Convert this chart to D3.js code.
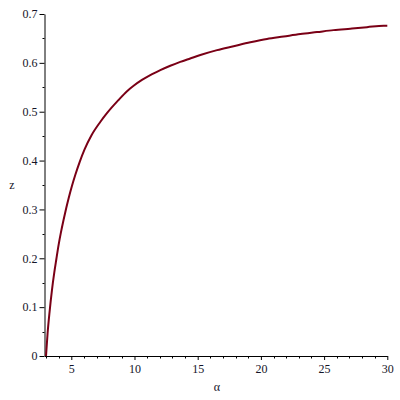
<!DOCTYPE html>
<html>
<head>
<meta charset="utf-8">
<script src="https://cdn.jsdelivr.net/npm/d3@7"></script>
<style>
  body { margin: 0; background: #fff; }
  svg { display: block; }
</style>
</head>
<body>
<div id="chart"></div>
<script>
// values
const alpha = [3.0, 3.12, 3.28, 3.47, 3.65, 3.81, 4.0, 4.18, 4.39, 4.6, 4.79, 5.05, 5.32, 5.66, 6.05,
  6.6, 7.29, 7.82, 8.74, 9.41, 9.93, 10.59, 11.25, 12.04, 12.83, 13.62, 14.41, 15.21, 16.53, 17.84,
  19.16, 20.48, 21.8, 23.12, 24.44, 25.75, 27.07, 28.39, 29.71, 30.0];
const z = [0.0, 0.045, 0.09, 0.135, 0.17, 0.197, 0.228, 0.253, 0.279, 0.303, 0.323, 0.348, 0.371, 0.397, 0.423,
  0.452, 0.479, 0.497, 0.524, 0.542, 0.553, 0.565, 0.575, 0.585, 0.594, 0.602, 0.609, 0.616, 0.626, 0.634,
  0.642, 0.649, 0.654, 0.659, 0.663, 0.667, 0.67, 0.673, 0.676, 0.676];
const xTicks = [5, 10, 15, 20, 25, 30];
const yTicks = [0, 0.1, 0.2, 0.3, 0.4, 0.5, 0.6, 0.7];

const width = 400, height = 400;
const fontFamily = '"Liberation Serif", "Times New Roman", serif';
const textColor = "#141428";

const svg = d3.select("#chart").append("svg")
  .attr("width", width).attr("height", height);

const x = d3.scaleLinear().domain([2.88, 30]).range([44.5, 387.3]);
const y = d3.scaleLinear().domain([0, 0.7]).range([356, 14]);

const axisColor = "#000";

// y axis
const yAxis = d3.axisLeft(y).tickValues(yTicks).tickSize(5).tickFormat(d3.format("")).tickSizeOuter(0);
const gy = svg.append("g").attr("transform", `translate(${x.range()[0]},0)`).call(yAxis);
gy.select(".domain").attr("stroke", axisColor);
gy.selectAll(".tick text").attr("x", -7)
  .style("font-family", fontFamily).style("font-size", "12px").attr("fill", textColor);
gy.selectAll(".tick line").attr("stroke", axisColor);
// y minor ticks
svg.append("g").selectAll("line")
  .data(d3.range(0.05, 0.7, 0.1))
  .join("line")
  .attr("x1", x.range()[0] - 2).attr("x2", x.range()[0])
  .attr("y1", d => Math.round(y(d)) + 0.5).attr("y2", d => Math.round(y(d)) + 0.5)
  .attr("stroke", axisColor);

// x axis
const xAxis = d3.axisBottom(x).tickValues(xTicks).tickSize(4).tickFormat(d3.format("d")).tickSizeOuter(0);
const gx = svg.append("g").attr("transform", `translate(0,${y(0)})`).call(xAxis);
gx.select(".domain").attr("stroke", axisColor);
gx.selectAll(".tick text").attr("y", 8)
  .style("font-family", fontFamily).style("font-size", "12px").attr("fill", textColor);
gx.selectAll(".tick line").attr("stroke", axisColor);
svg.append("g").selectAll("line")
  .data(d3.range(3, 30, 1).filter(d => d % 5 !== 0))
  .join("line")
  .attr("x1", d => Math.round(x(d)) + 0.5).attr("x2", d => Math.round(x(d)) + 0.5)
  .attr("y1", y(0)).attr("y2", y(0) + 2.5)
  .attr("stroke", axisColor);

// axis labels
svg.append("text")
  .attr("x", 217).attr("y", 391).attr("text-anchor", "middle")
  .style("font-family", fontFamily).style("font-size", "12px").attr("fill", textColor)
  .text("α");
svg.append("text")
  .attr("x", 12).attr("y", 189).attr("text-anchor", "middle")
  .style("font-family", fontFamily).style("font-size", "12px").attr("fill", textColor)
  .text("z");

// curve
const line = d3.line().x((d, i) => x(alpha[i])).y(d => y(d)).curve(d3.curveMonotoneX);
svg.append("path")
  .datum(z)
  .attr("d", line)
  .attr("fill", "none")
  .attr("stroke", "#7a0016")
  .attr("stroke-width", 2);
</script>
</body>
</html>
